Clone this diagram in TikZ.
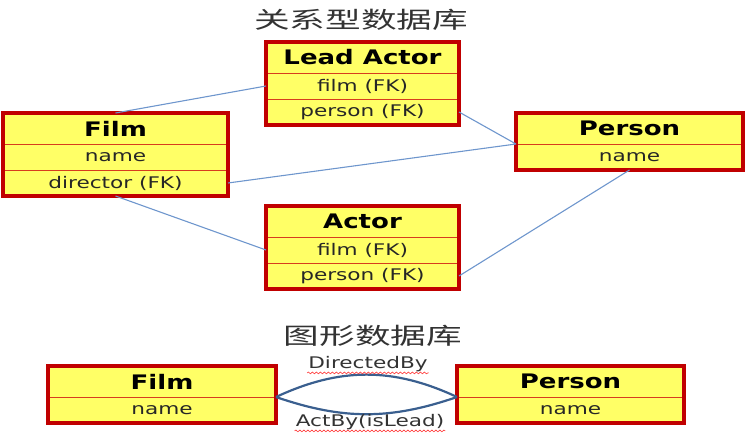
\documentclass[tikz,border=0pt]{standalone}
\usepackage{fontspec}
\setmainfont{DejaVu Sans}[FakeStretch=1.35]
\newfontfamily\hdrfont{DejaVu Sans}[FakeStretch=1.3]
\newfontfamily\cjk{Noto Sans CJK SC}[FakeStretch=1.55]
\usetikzlibrary{positioning,decorations.pathmorphing}

\definecolor{tabfill}{RGB}{255,255,102}
\definecolor{tabframe}{RGB}{192,0,0}
\definecolor{rowline}{RGB}{215,60,30}
\definecolor{linkblue}{RGB}{110,150,205}
\definecolor{edgeblue}{RGB}{58,95,143}

\begin{document}
\begin{tikzpicture}[x=1pt,y=-1pt,
    hdr/.style={rectangle, draw=rowline, line width=0.8pt, fill=tabfill, outer sep=0pt, inner sep=0pt,
        minimum width=#1, minimum height=31pt, font=\hdrfont\fontsize{20}{22}\selectfont\bfseries},
    fld/.style={rectangle, draw=rowline, line width=0.8pt, fill=tabfill, outer sep=0pt, inner sep=0pt,
        minimum width=#1, minimum height=26pt, text=black!85, font=\fontsize{16}{18}\selectfont},
    frame/.style={draw=tabframe, line width=3.2pt},
    link/.style={draw=linkblue, line width=1.1pt},
    rel/.style={draw=edgeblue, line width=2.2pt},
    title/.style={text=black!80, font=\cjk\fontsize{23}{25}\selectfont},
    lbl/.style={inner sep=1pt, text=black!80, font=\fontsize{16}{18}\selectfont},
    squiggle/.style={draw=red!80, line width=0.6pt, decorate, decoration={snake, amplitude=0.9pt, segment length=4pt}}]
    \useasboundingbox (0,0) rectangle (749,443);

    \node[title] (reltitle) at (361,20) {关系型数据库};

    \node[hdr=225pt, anchor=north west] (film) at (3,113) {Film};
    \node[fld=225pt] [below=0pt of film] (filmname) {name};
    \node[fld=225pt] [below=0pt of filmname] (filmdir) {director (FK)};
    \draw[frame] (film.north west) rectangle (filmdir.south east);

    \node[hdr=193pt, anchor=north west] (lead) at (266,42) {Lead Actor};
    \node[fld=193pt] [below=0pt of lead] (leadfilm) {film (FK)};
    \node[fld=193pt] [below=0pt of leadfilm] (leadperson) {person (FK)};
    \draw[frame] (lead.north west) rectangle (leadperson.south east);

    \node[hdr=227pt, anchor=north west] (person) at (516,113) {Person};
    \node[fld=227pt] [below=0pt of person] (personname) {name};
    \draw[frame] (person.north west) rectangle (personname.south east);

    \node[hdr=193pt, anchor=north west] (actor) at (266,206) {Actor};
    \node[fld=193pt] [below=0pt of actor] (actfilm) {film (FK)};
    \node[fld=193pt] [below=0pt of actfilm] (actperson) {person (FK)};
    \draw[frame] (actor.north west) rectangle (actperson.south east);

    \path[link]
    (film.north) -- (leadfilm.west)
    (leadperson.east) -- (person.south west)
    (filmdir.east) -- (person.south west)
    (filmdir.south) -- (actfilm.west)
    (actperson.east) -- (personname.south)
    ;

    \node[title] (graphtitle) at (373,336) {图形数据库};

    \node[hdr=228pt, anchor=north west] (gfilm) at (48,366) {Film};
    \node[fld=228pt] [below=0pt of gfilm] (gfilmname) {name};
    \draw[frame] (gfilm.north west) rectangle (gfilmname.south east);

    \node[hdr=227pt, anchor=north west] (gperson) at (457,366) {Person};
    \node[fld=227pt] [below=0pt of gperson] (gpersonname) {name};
    \draw[frame] (gperson.north west) rectangle (gpersonname.south east);

    \path[rel]
    (gfilm.south east) edge [bend left=25] (gperson.south west)
    (gfilm.south east) edge [bend right=19] (gperson.south west)
    ;

    \node[lbl] (directed) at (368,364) {DirectedBy};
    \node[lbl] (actby) at (370,422) {ActBy(isLead)};
    \draw[squiggle] (directed.south west) -- (directed.south east);
    \draw[squiggle] (actby.south west) -- (actby.south east);
\end{tikzpicture}
\end{document}
